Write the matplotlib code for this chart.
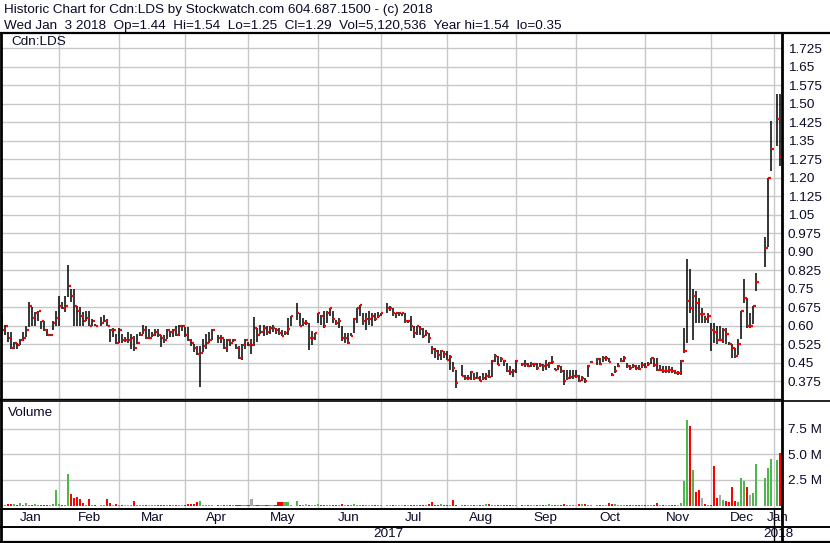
import numpy as np
import pandas as pd
import matplotlib
matplotlib.use('Agg')
import matplotlib.pyplot as plt

plt.rcParams['font.family'] = ['Liberation Sans', 'DejaVu Sans']

# ---------------- data (one value per weekday, Jan 2 2017 .. Jan 3 2018) ----------------
N = None
HIGH = [N, N, N,
 .643,.603,.573,.573,.533,.530,.546,.573,.600,.695,.674,.654,.661,.620,.620,.587,.566,.620,.661,
 .722,.695,.722,.846,.749,.749,.681,.674,.654,.661,.661,.627,.607,N,.634,.643,.627,.587,.589,.566,
 .589,.566,.553,.573,.566,.557,.566,.573,.603,.597,.587,.573,.587,.587,.562,.562,.587,.580,.587,.597,.603,.603,.593,
 .593,.546,.526,.516,.519,.546,.566,.573,.587,N,.562,.562,.546,.548,.546,.546,.526,.519,.526,.546,
 .533,.546,.634,.589,.603,.603,.600,.600,.603,.592,.591,.584,.577,.632,.639,N,.693,.652,.632,.625,.611,.577,.571,
 .652,.645,.659,.659,.673,.659,.625,.632,.598,.571,.571,.571,.632,.673,.686,.652,.652,.659,.652,.652,.655,.652,
 N,.693,.680,.671,.652,.655,.652,.652,.625,.639,.598,.598,.598,.591,.584,.571,.519,.509,.503,.503,.496,
 .496,.482,.451,.421,N,.440,.401,.401,.418,.410,.413,.397,.408,.410,.421,.462,.486,.478,.475,.462,.448,.435,.425,
 .462,N,.448,.462,.448,.451,.448,.448,.448,.444,.462,.455,.478,.428,.442,.435,.421,.421,.421,.421,.419,
 .401,.397,.387,.442,.458,N,.469,.469,.476,.476,.469,.408,.435,.448,.469,.476,.448,.442,.446,.442,.442,.451,
 .448,.455,.469,.469,.469,.442,.435,.438,.435,.432,.421,.415,.462,.591,.872,.831,.749,.740,.713,.672,.641,.652,
 .611,.611,.600,.600,.591,.591,.533,.527,.509,.546,.659,.790,.713,.652,.682,.812,N,N,.961,1.198,1.430,
 N,1.540,1.540]

LOW = [N, N, N,
 .566,.562,.533,.506,.506,.506,.522,.539,.553,.593,.600,.600,.620,.587,.580,.560,.557,.584,.600,
 .600,.668,.654,.715,.695,.600,.600,.600,.600,.620,.597,.600,.597,N,.600,.615,.597,.533,.553,.526,
 .530,.530,.533,.530,.506,.499,.526,.557,.566,.546,.546,.553,.557,.553,.512,.530,.546,.553,.553,.557,.557,.580,.553,
 .539,.519,.492,.481,.353,.492,.506,.530,.543,N,.530,.530,.506,.492,.519,.533,.506,.465,.462,.506,
 .519,.485,.519,.533,.566,.560,.562,.566,.573,.566,.564,.557,.564,.564,.598,N,.625,.598,.598,.605,.500,.522,.543,
 .611,.601,.591,.611,.639,.611,.605,.591,.537,.530,.527,.557,.571,.611,.639,.605,.584,.605,.598,.618,.632,.639,
 N,.652,.660,.639,.632,.640,.639,.611,.610,.577,.550,.564,.564,.550,.557,.530,.486,.469,.462,.462,.469,
 .462,.421,.414,.349,N,.398,.380,.380,.380,.380,.383,.374,.380,.380,.387,.394,.455,.440,.455,.437,.414,.401,.394,
 .410,N,.435,.432,.432,.432,.432,.421,.432,.418,.421,.428,.446,.419,.419,.410,.358,.381,.383,.383,.387,
 .370,.374,.367,.394,.448,N,.442,.442,.455,.458,.451,.397,.410,.432,.451,.455,.428,.421,.428,.421,.419,.428,
 .428,.438,.446,.432,.415,.415,.410,.408,.410,.408,.405,.401,.401,.489,.530,.652,.543,.611,.611,.611,.611,.611,
 .496,.530,.527,.543,.530,.527,.523,.469,.469,.482,.546,.693,.591,.591,.608,.740,N,N,.840,.918,1.229,
 N,1.330,1.248]

CLOSE = [N, N, N,
 .584,.600,.551,.510,.530,.522,.543,.551,.584,.681,.632,.653,.661,.620,.584,.562,.562,.612,.632,
 .681,.673,.681,.762,.722,.681,.661,.641,.620,.632,.600,.620,.600,N,.612,.620,.600,.584,.584,.530,
 .584,.543,.543,.543,.551,.510,.530,.562,.584,.551,.551,.562,.573,.562,.551,.543,.584,.573,.584,.562,.600,.600,.562,
 .543,.530,.510,.485,.491,.519,.530,.543,.584,N,.551,.551,.510,.543,.530,.543,.510,.470,.522,.543,
 .522,.522,.592,.562,.573,.592,.573,.592,.592,.584,.571,.560,.571,.588,.639,N,.651,.598,.610,.610,.549,.549,.571,
 .651,.639,.598,.651,.671,.628,.610,.618,.549,.549,.530,.560,.628,.671,.686,.618,.628,.628,.639,.628,.639,.651,
 N,.671,.671,.651,.651,.651,.651,.618,.618,.598,.571,.598,.588,.560,.571,.549,.505,.499,.480,.499,.486,
 .462,.473,.428,.368,N,.398,.389,.389,.413,.389,.389,.376,.389,.398,.394,.458,.478,.440,.467,.458,.418,.413,.418,
 .458,N,.446,.446,.435,.446,.446,.428,.440,.437,.440,.448,.455,.421,.435,.415,.377,.390,.394,.397,.397,
 .377,.390,.377,.435,.455,N,.465,.446,.469,.469,.455,.401,.415,.438,.459,.469,.435,.428,.435,.428,.424,.442,
 .432,.444,.469,.442,.419,.419,.415,.415,.419,.415,.410,.410,.459,.499,.699,.672,.720,.693,.649,.649,.629,.638,
 .581,.575,.541,.541,.581,.568,.527,.508,.478,.527,.659,.712,.598,.598,.679,.779,N,N,.917,1.198,1.317,
 N,1.440,1.290]

VOLUME_M = [N, N, N,
 .05,.06,.13,.19,.13,.04,.23,.04,.23,.04,.06,.16,.06,.10,.06,.10,.06,.19,1.5,
 .19,.06,.04,3.1,1.1,.70,.85,.65,.30,.06,.65,.06,.04,N,.06,.04,.65,.30,.04,.16,
 .04,.04,.06,.04,.04,.45,.04,.06,.04,.06,.03,.03,.03,.06,.03,.06,.03,.03,.03,.03,.03,.03,.03,
 .13,.16,.19,.39,.45,.06,.03,.03,.06,N,.03,.03,.06,.03,.03,.03,.06,.03,.03,.03,
 .03,.65,.06,.03,.06,.06,.03,.06,.03,.03,.39,.32,.39,.32,.06,N,.45,.10,.06,.19,.06,.03,.03,
 .19,.06,.06,.03,.03,.03,.03,.03,.13,.03,.03,.03,.13,.06,.06,.03,.03,.03,.03,.02,.02,.02,
 N,.06,.02,.02,.02,.02,.02,.02,.02,.02,.02,.02,.02,.02,.02,.19,.32,.06,.03,.13,.03,
 .03,.03,.55,.06,N,.06,.06,.03,.06,.03,.03,.06,.03,.13,.13,.06,.03,.03,.06,.03,.03,.03,.03,
 .03,N,.06,.03,.06,.03,.03,.03,.06,.06,.03,.19,.06,.06,.03,.03,.19,.03,.03,.03,.03,
 .13,.19,.19,.06,.06,N,.06,.06,.03,.03,.23,.16,.13,.06,.06,.03,.03,.03,.03,.03,.03,.06,
 .03,.03,.06,.06,.23,.03,.06,.03,.03,.03,.03,.06,.23,2.4,8.34,7.76,3.51,1.36,1.53,.71,.19,.06,
 .10,3.9,.71,1.04,.52,.45,.39,1.85,.45,.39,2.66,2.4,1.85,1.04,1.2,4.09,N,N,2.73,3.7,4.55,
 N,4.42,5.12]

PRICE_TICKS = [0.375, 0.45, 0.525, 0.60, 0.675, 0.75, 0.825, 0.90, 0.975, 1.05,
               1.125, 1.20, 1.275, 1.35, 1.425, 1.50, 1.575, 1.65, 1.725]
VOL_TICKS = [2.5, 5.0, 7.5]
HEADER1 = "Historic Chart for Cdn:LDS by Stockwatch.com 604.687.1500 - (c) 2018"
HEADER2 = "Wed Jan  3 2018  Op=1.44  Hi=1.54  Lo=1.25  Cl=1.29  Vol=5,120,536  Year hi=1.54  lo=0.35"
SYMBOL = "Cdn:LDS"

# ---------------- derived ----------------
dates = pd.bdate_range('2017-01-02', '2018-01-03')
n = len(dates)
x = np.arange(n)
def arr(a):
    return np.array([np.nan if v is None else v for v in a], dtype=float)
hi, lo, cl, vol = arr(HIGH), arr(LOW), arr(CLOSE), arr(VOLUME_M)

# volume colours from close-to-close change
vcol = []
prev = np.nan
for c in cl:
    if np.isnan(c):
        vcol.append('#a8a8a8')
        continue
    if np.isnan(prev) or abs(c - prev) < 1e-9:
        vcol.append('#a8a8a8')
    elif c > prev:
        vcol.append('#4cb84c')
    else:
        vcol.append('#ff0000')
    prev = c

# month boundaries: slot of the last weekday on or before the 1st
month_starts = pd.date_range('2017-02-01', '2018-01-01', freq='MS')
bounds = [int(np.searchsorted(dates.values, m.to_datetime64(), side='right') - 1) for m in month_starts]

W, H = 830, 543
XL = (2.9, 262.7)
FS = 9.7
fig = plt.figure(figsize=(W / 100, H / 100), dpi=100)
fig.patch.set_facecolor('white')

def box(l, t, r, b):
    return [l / W, 1 - b / H, (r - l) / W, (b - t) / H]

TXT = '#0a0a28'
GRID = '#c8c8c8'

ax_p = fig.add_axes(box(2, 33, 782, 398.5))
ax_v = fig.add_axes(box(2, 401, 782, 509))

for ax in (ax_p, ax_v):
    ax.set_xlim(*XL)
    for s in ax.spines.values():
        s.set_visible(False)
    ax.set_xticks([])
    for b in bounds:
        ax.axvline(b, color=GRID, lw=1.0, zorder=0)
    ax.yaxis.tick_right()
    ax.tick_params(axis='y', length=0, pad=4.3, labelsize=FS, labelcolor=TXT)

# price panel
ax_p.set_ylim(0.305, 1.787)
ax_p.set_yticks(PRICE_TICKS)
def fmt(v):
    s = '%.3f' % v
    return s[:-1] if s.endswith('0') else s
ax_p.set_yticklabels([fmt(v) for v in PRICE_TICKS])
for v in PRICE_TICKS:
    ax_p.axhline(v, color=GRID, lw=1.0, zorder=0)
ok = ~np.isnan(hi)
ax_p.vlines(x[ok], lo[ok], hi[ok], color='black', lw=1.1, zorder=3)
ax_p.hlines(cl[ok], x[ok] + 0.15, x[ok] + 0.9, color='#ff0000', lw=1.6, zorder=4)
ax_p.text(9 / 780, 1 - (42 - 33) / 365.5, SYMBOL, transform=ax_p.transAxes,
          ha='left', va='center', fontsize=FS, color=TXT)

# volume panel
ax_v.set_ylim(-0.33, 10.2)
ax_v.set_yticks(VOL_TICKS)
ax_v.set_yticklabels(['%.1f M' % v for v in VOL_TICKS])
for v in VOL_TICKS:
    ax_v.axhline(v, color=GRID, lw=1.0, zorder=0)
okv = ~np.isnan(vol)
ax_v.bar(x[okv], vol[okv], width=0.68, color=np.array(vcol)[okv], linewidth=0, zorder=3)
ax_v.text(6 / 780, 1 - (413 - 401) / 108, 'Volume', transform=ax_v.transAxes,
          ha='left', va='center', fontsize=FS, color=TXT)

# label rows share the x scale
ax_m = fig.add_axes(box(2, 509, 782, 541), facecolor='none')
ax_m.set_xlim(*XL)
ax_m.set_ylim(541, 509)
ax_m.axis('off')
edges = [XL[0]] + bounds + [XL[1]]
labels = [d.strftime('%b') for d in pd.date_range('2017-01-01', '2018-01-01', freq='MS')]
for i, lab in enumerate(labels):
    ax_m.text((edges[i] + edges[i + 1]) / 2, 518, lab, ha='center', va='center',
              fontsize=FS, color=TXT, clip_on=False)
ax_m.text((XL[0] + bounds[-1]) / 2, 534, '2017', ha='center', va='center', fontsize=FS, color=TXT)
ax_m.text((bounds[-1] + XL[1]) / 2, 534, '2018', ha='center', va='center', fontsize=FS,
          color=TXT, clip_on=False)
ax_m.plot([bounds[-1], bounds[-1]], [509, 541], color='black', lw=1.0, clip_on=False)

# frame and header (pixel overlay)
ov = fig.add_axes([0, 0, 1, 1], facecolor='none', zorder=10)
ov.set_xlim(0, W)
ov.set_ylim(H, 0)
ov.axis('off')
K = 'black'
ov.plot([0, W], [33, 33], color=K, lw=1.6)
ov.plot([1.2, 1.2], [33, 543], color=K, lw=2.0)
ov.plot([782, 782], [33, 543], color=K, lw=2.0)
ov.plot([0, 782], [398.5, 398.5], color=K, lw=1.0)
ov.plot([0, W], [401.3, 401.3], color=K, lw=1.2)
ov.plot([0, 782], [509, 509], color=K, lw=1.4)
ov.plot([0, W], [526.5, 526.5], color=K, lw=1.4)
ov.plot([0, W], [541.5, 541.5], color=K, lw=1.6)
ov.text(4, 10, HEADER1, ha='left', va='center', fontsize=FS, color=TXT)
ov.text(4, 26, HEADER2, ha='left', va='center', fontsize=FS, color=TXT)

fig.savefig('out.png', dpi=100, facecolor='white')
